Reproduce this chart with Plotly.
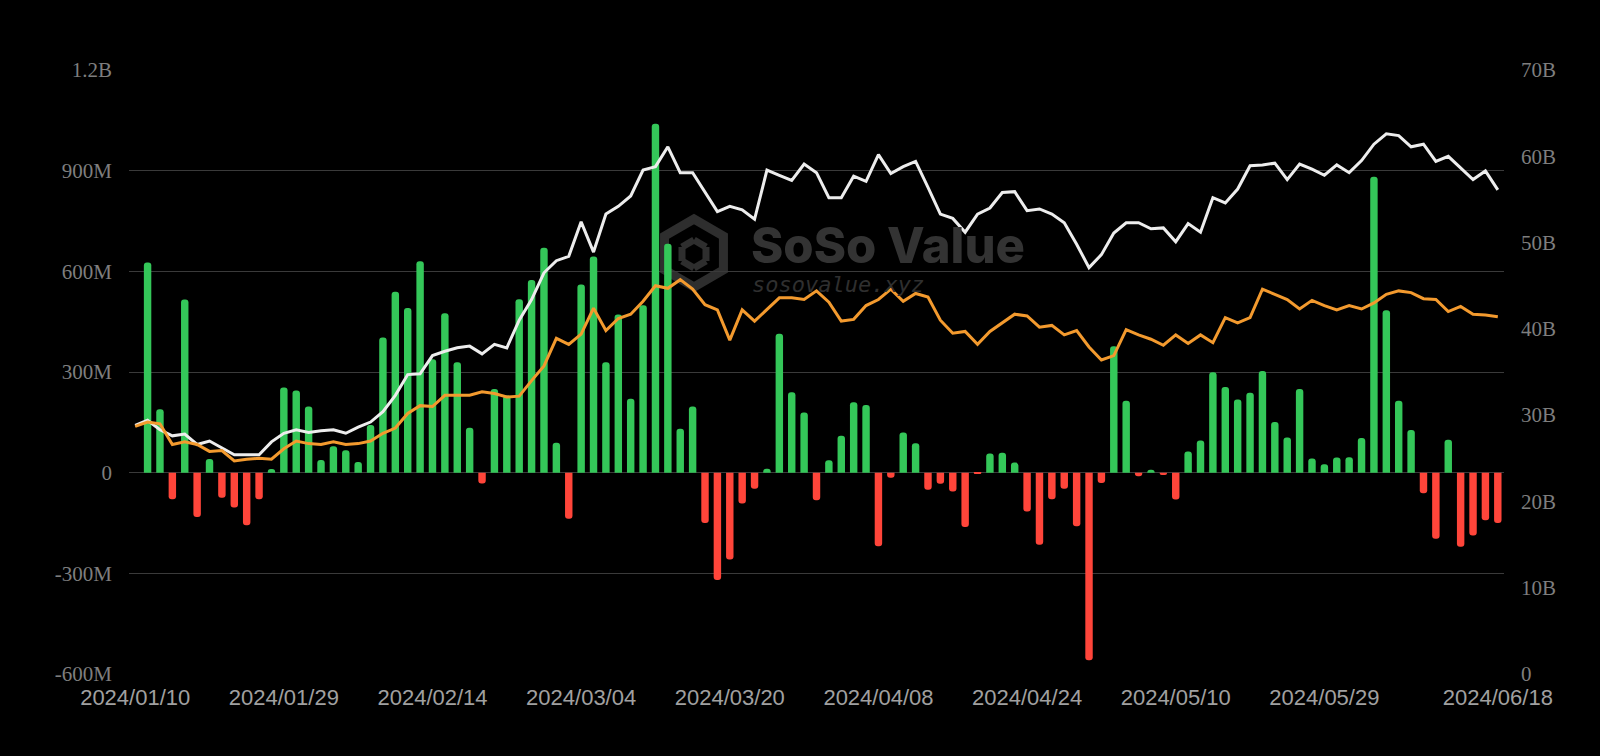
import plotly.graph_objects as go
import math

# ---------------- data ----------------
trading_days = {
    1: [10, 11, 12, 16, 17, 18, 19, 22, 23, 24, 25, 26, 29, 30, 31],
    2: [1, 2, 5, 6, 7, 8, 9, 12, 13, 14, 15, 16, 20, 21, 22, 23, 26, 27, 28, 29],
    3: [1, 4, 5, 6, 7, 8, 11, 12, 13, 14, 15, 18, 19, 20, 21, 22, 25, 26, 27, 28],
    4: [1, 2, 3, 4, 5, 8, 9, 10, 11, 12, 15, 16, 17, 18, 19, 22, 23, 24, 25, 26, 29, 30],
    5: [1, 2, 3, 6, 7, 8, 9, 10, 13, 14, 15, 16, 17, 20, 21, 22, 23, 24, 28, 29, 30, 31],
    6: [3, 4, 5, 6, 7, 10, 11, 12, 13, 14, 17, 18],
}
dates = [f"2024/{m:02d}/{d:02d}" for m, ds in trading_days.items() for d in ds]

x_tick_labels = ["2024/01/10", "2024/01/29", "2024/02/14", "2024/03/04", "2024/03/20",
                 "2024/04/08", "2024/04/24", "2024/05/10", "2024/05/29", "2024/06/18"]

# daily net inflow, millions USD
net_inflow_m = [
    None, 626, 189, -79, 516, -132, 41, -75, -104, -157,
    -79, 11, 254, 245, 197, 38, 79, 67, 32, 142,
    403, 539, 491, 630, 338, 475, 329, 134, -32, 249,
    230, 517, 574, 670, 89, -137, 561, 644, 329, 471,
    220, 499, 1040, 682, 131, 197, -150, -320, -259, -92,
    -48, 12, 414, 240, 179, -82, 37, 110, 210, 202,
    -219, -15, 120, 88, -51, -33, -56, -162, -4, 57,
    59, 30, -116, -215, -79, -48, -160, -559, -31, 377,
    214, -11, 9, -7, -80, 63, 96, 299, 255, 218,
    238, 303, 151, 105, 249, 42, 25, 45, 46, 103,
    882, 484, 214, 127, -61, -197, 98, -221, -187, -142,
    -150,
]

# white line, billions USD
white_b = [
    28.8, 29.4, 28.3, 27.6, 27.8, 26.6, 27.0, 26.2, 25.4, 25.4,
    25.4, 26.9, 27.9, 28.3, 28.0, 28.2, 28.3, 27.9, 28.6, 29.2,
    30.4, 32.3, 34.7, 34.8, 36.9, 37.4, 37.8, 38.0, 37.1, 38.2,
    37.8, 41.0, 43.4, 46.5, 47.9, 48.4, 52.4, 48.9, 53.3, 54.2,
    55.4, 58.4, 58.8, 61.1, 58.1, 58.1, 55.9, 53.6, 54.2, 53.8,
    52.7, 58.4, 57.8, 57.2, 59.1, 58.1, 55.2, 55.2, 57.7, 57.1,
    60.2, 58.0, 58.8, 59.4, 56.4, 53.3, 52.8, 51.2, 53.3, 54.0,
    55.8, 55.9, 53.7, 53.9, 53.3, 52.3, 49.8, 47.1, 48.6, 51.1,
    52.3, 52.3, 51.6, 51.7, 50.1, 52.2, 51.2, 55.2, 54.6, 56.2,
    58.9, 59.0, 59.2, 57.3, 59.1, 58.5, 57.8, 59.0, 58.1, 59.5,
    61.4, 62.6, 62.4, 61.1, 61.4, 59.4, 60.0, 58.6, 57.3, 58.3,
    56.1,
]

# orange line, billions USD
orange_b = [
    28.7, 29.2, 29.0, 26.6, 26.9, 26.6, 25.8, 25.9, 24.7, 24.9,
    25.0, 24.9, 26.1, 27.0, 26.7, 26.6, 26.9, 26.6, 26.7, 27.0,
    27.9, 28.5, 30.2, 31.1, 31.0, 32.3, 32.3, 32.3, 32.7, 32.5,
    32.1, 32.2, 34.0, 35.7, 38.9, 38.2, 39.4, 42.4, 39.8, 41.2,
    41.7, 43.2, 45.0, 44.7, 45.7, 44.6, 42.8, 42.2, 38.7, 42.2,
    40.9, 42.2, 43.6, 43.6, 43.4, 44.4, 43.1, 40.9, 41.1, 42.7,
    43.4, 44.6, 43.2, 44.1, 43.7, 41.0, 39.5, 39.7, 38.2, 39.7,
    40.7, 41.7, 41.5, 40.2, 40.4, 39.3, 39.8, 37.9, 36.4, 36.9,
    39.9, 39.3, 38.8, 38.1, 39.3, 38.3, 39.3, 38.4, 41.3, 40.7,
    41.3, 44.6, 44.0, 43.4, 42.3, 43.3, 42.7, 42.2, 42.7, 42.3,
    43.0, 44.0, 44.4, 44.2, 43.5, 43.4, 42.0, 42.6, 41.7, 41.6,
    41.4,
]

left_tick_vals = [-600e6, -300e6, 0, 300e6, 600e6, 900e6, 1200e6]
left_tick_text = ["-600M", "-300M", "0", "300M", "600M", "900M", "1.2B"]
right_tick_vals = [0, 10e9, 20e9, 30e9, 40e9, 50e9, 60e9, 70e9]
right_tick_text = ["0", "10B", "20B", "30B", "40B", "50B", "60B", "70B"]

# ---------------- styling ----------------
GREEN = "#34C759"
RED = "#FF453A"
WHITE = "#EDEDED"
ORANGE = "#F39A2E"
GRID = "#3A3A3A"

W, H = 1600, 756
ML, MR, MT, MB = 129, 96, 70, 82
PW, PH = W - ML - MR, H - MT - MB


def px_x(px):
    return (px - ML) / PW


def px_y(py):
    return (H - MB - py) / PH


flows = [None if v is None else v * 1e6 for v in net_inflow_m]
bar_colors = [GREEN if (v is not None and v >= 0) else RED for v in net_inflow_m]

fig = go.Figure()
fig.add_trace(go.Bar(
    x=dates, y=flows, marker=dict(color=bar_colors, line=dict(width=0)),
    yaxis="y", name="Net inflow", hoverinfo="x+y",
))
fig.add_trace(go.Scatter(
    x=dates, y=[v * 1e9 for v in white_b], yaxis="y2", mode="lines",
    line=dict(color=WHITE, width=3), name="Total net assets",
))
fig.add_trace(go.Scatter(
    x=dates, y=[v * 1e9 for v in orange_b], yaxis="y2", mode="lines",
    line=dict(color=ORANGE, width=3), name="Series 2",
))

# watermark (decoration)
cx, cy, r = 694, 253, 34
hexpts = []
for k in range(6):
    a = math.radians(90 + 60 * k)
    hexpts.append((px_x(cx + r * math.cos(a)), px_y(cy - r * math.sin(a))))
path = "M " + " L ".join(f"{x:.5f},{y:.5f}" for x, y in hexpts) + " Z"
wm = "#2E2E2E"
shapes = [dict(type="path", xref="paper", yref="paper", path=path,
               line=dict(color=wm, width=9), fillcolor="rgba(0,0,0,0)", layer="below")]
inner = [((cx - 12, cy - 6), (cx, cy - 13)), ((cx, cy - 13), (cx + 12, cy - 6)),
         ((cx - 12, cy - 6), (cx - 12, cy + 8)), ((cx + 12, cy - 6), (cx + 12, cy + 8)),
         ((cx - 12, cy + 8), (cx, cy + 15)), ((cx, cy + 15), (cx + 12, cy + 8))]
for (x0, y0), (x1, y1) in inner:
    shapes.append(dict(type="line", xref="paper", yref="paper",
                       x0=px_x(x0), y0=px_y(y0), x1=px_x(x1), y1=px_y(y1),
                       line=dict(color=wm, width=7), layer="below"))

annotations = [
    dict(text="SoSo Value", xref="paper", yref="paper", x=px_x(749), y=px_y(245),
         xanchor="left", yanchor="middle", showarrow=False,
         font=dict(family="Inter", size=49, color="#333333", weight=800)),
    dict(text="sosovalue.xyz", xref="paper", yref="paper", x=px_x(750), y=px_y(284),
         xanchor="left", yanchor="middle", showarrow=False,
         font=dict(family="DejaVu Sans Mono", size=22, color="#2F2F2F", style="italic")),
]

fig.update_layout(
    width=W, height=H,
    margin=dict(l=ML, r=MR, t=MT, b=MB, pad=0),
    paper_bgcolor="#000000", plot_bgcolor="#000000",
    showlegend=False, bargap=0.4, barcornerradius=4,
    shapes=shapes, annotations=annotations,
    xaxis=dict(type="category", range=[-0.5, len(dates) - 0.5],
               tickmode="array", tickvals=x_tick_labels, ticktext=x_tick_labels,
               showgrid=False, zeroline=False, showline=False, ticks="",
               tickfont=dict(family="Liberation Sans", size=22, color="#A0A0A0"),
               ticklabelstandoff=8, fixedrange=True),
    yaxis=dict(range=[-600e6, 1200e6], tickmode="array",
               tickvals=left_tick_vals, ticktext=left_tick_text,
               showgrid=True, gridcolor=GRID, gridwidth=1,
               zeroline=True, zerolinecolor=GRID, zerolinewidth=1,
               showline=False, ticks="",
               tickfont=dict(family="Liberation Serif", size=21, color="#7E7E7E"),
               ticklabelstandoff=16, fixedrange=True),
    yaxis2=dict(range=[0, 70e9], overlaying="y", side="right", tickmode="array",
                tickvals=right_tick_vals, ticktext=right_tick_text,
                showgrid=False, zeroline=False, showline=False, ticks="",
                tickfont=dict(family="Liberation Serif", size=21, color="#7E7E7E"),
                ticklabelstandoff=16, fixedrange=True),
)

fig.write_html("out.html", config={"displayModeBar": False})
